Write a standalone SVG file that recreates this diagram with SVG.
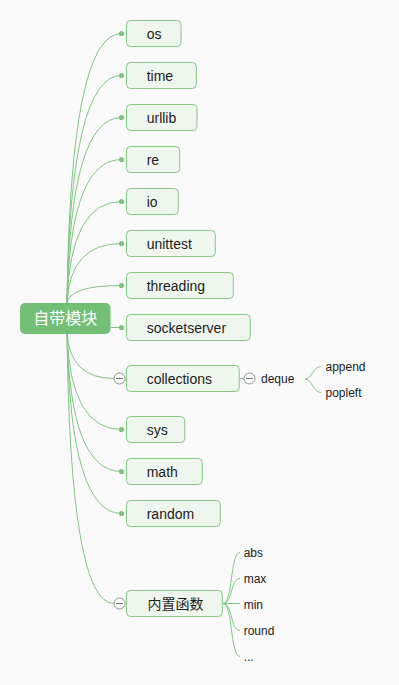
<svg xmlns="http://www.w3.org/2000/svg" width="399" height="685" viewBox="0 0 399 685">
<style>
.bg{fill:#fafafa}
.box{fill:#eff6ed;stroke:#84c983;stroke-width:1}
.root{fill:#74bf76}
.t{font-family:"Liberation Sans","Noto Sans CJK SC",sans-serif;font-size:14px;fill:#1c1c1c}
.s{font-family:"Liberation Sans","Noto Sans CJK SC",sans-serif;font-size:12px;fill:#1c1c1c}
.rt{font-family:"Liberation Sans","Noto Sans CJK SC",sans-serif;font-size:16px;fill:#ffffff;text-anchor:middle}
.ln{fill:none;stroke:#80c681;stroke-width:1}
.dot{fill:#7cc47d}
.col{fill:#ffffff;stroke:#8a8a8a;stroke-width:1}
.minus{stroke:#777;stroke-width:1}
</style>
<rect class="bg" x="0" y="0" width="399" height="685"/>
<g id="connectors">
<path class="ln" d="M67 303 Q70 33.5 121.5 33.5"/>
<path class="ln" d="M67 303 Q70 75.5 121.5 75.5"/>
<path class="ln" d="M67 303 Q70 117.5 121.5 117.5"/>
<path class="ln" d="M67 303 Q70 159.5 121.5 159.5"/>
<path class="ln" d="M67 303 Q70 201.5 121.5 201.5"/>
<path class="ln" d="M67 303 Q70 243.5 121.5 243.5"/>
<path class="ln" d="M67 303 Q70 285.5 121.5 285.5"/>
<path class="ln" d="M110.5 327.5 L121.5 327.5"/>
<path class="ln" d="M67 333 Q70 378.5 114 378.5"/>
<path class="ln" d="M67 333 Q70 429.5 121.5 429.5"/>
<path class="ln" d="M67 333 Q70 471.5 121.5 471.5"/>
<path class="ln" d="M67 333 Q70 513.5 121.5 513.5"/>
<path class="ln" d="M67 333 Q70 603.5 114 603.5"/>
<circle class="dot" cx="121.5" cy="33.5" r="2.6"/>
<circle class="dot" cx="121.5" cy="75.5" r="2.6"/>
<circle class="dot" cx="121.5" cy="117.5" r="2.6"/>
<circle class="dot" cx="121.5" cy="159.5" r="2.6"/>
<circle class="dot" cx="121.5" cy="201.5" r="2.6"/>
<circle class="dot" cx="121.5" cy="243.5" r="2.6"/>
<circle class="dot" cx="121.5" cy="285.5" r="2.6"/>
<circle class="dot" cx="121.5" cy="327.5" r="2.6"/>
<circle class="dot" cx="121.5" cy="429.5" r="2.6"/>
<circle class="dot" cx="121.5" cy="471.5" r="2.6"/>
<circle class="dot" cx="121.5" cy="513.5" r="2.6"/>
<path class="ln" d="M239.5 378.5 L244 378.5"/>
<path class="ln" d="M305 379 C312 379 313 366.5 321 366.5"/>
<path class="ln" d="M305 379 C312 379 313 392.5 321 392.5"/>
<path class="ln" d="M223 603.5 C233 603.5 230 552.5 240 552.5"/>
<path class="ln" d="M223 603.5 C233 603.5 230 578.5 240 578.5"/>
<path class="ln" d="M223 603.5 L240 603.5"/>
<path class="ln" d="M223 603.5 C233 603.5 230 630.5 240 630.5"/>
<path class="ln" d="M223 603.5 C233 603.5 230 656.5 240 656.5"/>
</g>
<g id="root"><rect class="root" x="20" y="303" width="90.5" height="31" rx="5"/><text class="rt" x="65.2" y="324.3">自带模块</text></g>
<g id="n-os"><rect class="box" x="126.5" y="20.5" width="54.5" height="26" rx="4"/><text class="t" x="146.7" y="38.8">os</text></g>
<g id="n-time"><rect class="box" x="126.5" y="62.5" width="69.8" height="26" rx="4"/><text class="t" x="146.7" y="80.8">time</text></g>
<g id="n-urllib"><rect class="box" x="126.5" y="104.5" width="70.5" height="26" rx="4"/><text class="t" x="146.7" y="122.8">urllib</text></g>
<g id="n-re"><rect class="box" x="126.5" y="146.5" width="53.2" height="26" rx="4"/><text class="t" x="146.7" y="164.8">re</text></g>
<g id="n-io"><rect class="box" x="126.5" y="188.5" width="51.8" height="26" rx="4"/><text class="t" x="146.7" y="206.8">io</text></g>
<g id="n-unittest"><rect class="box" x="126.5" y="230.5" width="88.8" height="26" rx="4"/><text class="t" x="146.7" y="248.8">unittest</text></g>
<g id="n-threading"><rect class="box" x="126.5" y="272.5" width="106.8" height="26" rx="4"/><text class="t" x="146.7" y="290.8">threading</text></g>
<g id="n-socketserver"><rect class="box" x="126.5" y="314.5" width="123.8" height="26" rx="4"/><text class="t" x="146.7" y="332.8">socketserver</text></g>
<g id="n-collections"><rect class="box" x="126.5" y="365.5" width="112.8" height="26" rx="4"/><text class="t" x="146.7" y="383.8">collections</text>
<circle class="col" cx="119.5" cy="378.5" r="5.5"/><line class="minus" x1="116" y1="378.5" x2="123" y2="378.5"/></g>
<g id="n-deque"><circle class="col" cx="249.5" cy="378.5" r="5.5"/><line class="minus" x1="246" y1="378.5" x2="253" y2="378.5"/><text class="s" x="261" y="383">deque</text></g>
<g id="n-append"><text class="s" x="325.5" y="371">append</text></g>
<g id="n-popleft"><text class="s" x="325.5" y="397">popleft</text></g>
<g id="n-sys"><rect class="box" x="126.5" y="416.5" width="58.2" height="26" rx="4"/><text class="t" x="146.7" y="434.8">sys</text></g>
<g id="n-math"><rect class="box" x="126.5" y="458.5" width="75.8" height="26" rx="4"/><text class="t" x="146.7" y="476.8">math</text></g>
<g id="n-random"><rect class="box" x="126.5" y="500.5" width="93.8" height="26" rx="4"/><text class="t" x="146.7" y="518.8">random</text></g>
<g id="n-builtin"><rect class="box" x="126.5" y="590.5" width="95.8" height="26" rx="4"/><text class="t" x="147.5" y="608.8">内置函数</text>
<circle class="col" cx="119.5" cy="603.5" r="5.5"/><line class="minus" x1="116" y1="603.5" x2="123" y2="603.5"/></g>
<g id="n-abs"><text class="s" x="243.7" y="557">abs</text></g>
<g id="n-max"><text class="s" x="243.7" y="583">max</text></g>
<g id="n-min"><text class="s" x="243.7" y="609">min</text></g>
<g id="n-round"><text class="s" x="243.7" y="635">round</text></g>
<g id="n-more"><text class="s" x="243.7" y="661">...</text></g>
</svg>
